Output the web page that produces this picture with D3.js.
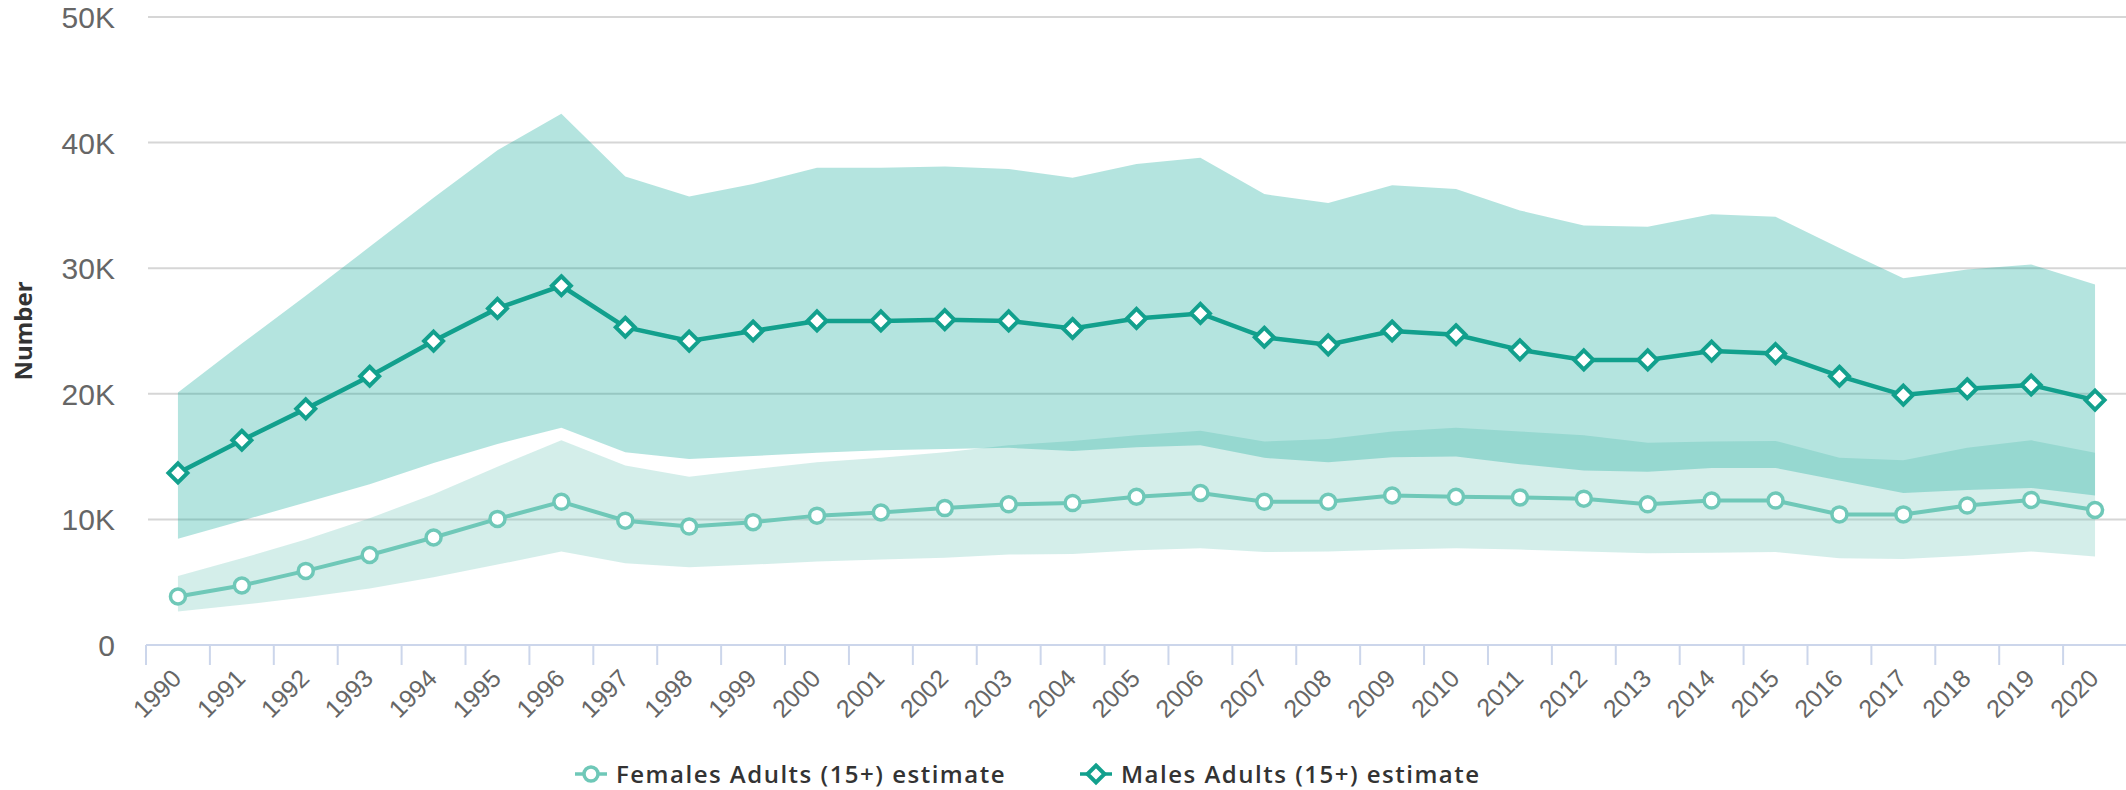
<!DOCTYPE html>
<html>
<head>
<meta charset="utf-8">
<script src="https://cdn.jsdelivr.net/npm/d3@7/dist/d3.min.js"></script>
<style>
  body { margin: 0; background: #fff; }
  svg { display: block; }
</style>
</head>
<body>
<svg id="chart"></svg>
<script>
// data (thousands)
const years = d3.range(1990, 2021);
const yTicks = [0, 10000, 20000, 30000, 40000, 50000];

const femaleEst  = [3.86, 4.74, 5.9, 7.17, 8.56, 10.04, 11.4, 9.9, 9.43, 9.78, 10.3, 10.55, 10.9, 11.2, 11.3, 11.8, 12.1, 11.4, 11.4, 11.9, 11.8, 11.75, 11.65, 11.2, 11.5, 11.5, 10.4, 10.4, 11.1, 11.55, 10.75];
const femaleLow  = [2.67, 3.2, 3.8, 4.5, 5.4, 6.4, 7.45, 6.5, 6.2, 6.4, 6.65, 6.8, 6.95, 7.2, 7.25, 7.55, 7.7, 7.4, 7.45, 7.6, 7.7, 7.6, 7.45, 7.3, 7.35, 7.4, 6.9, 6.85, 7.1, 7.45, 7.05];
const femaleHigh = [5.5, 6.9, 8.4, 10.1, 12.0, 14.2, 16.3, 14.3, 13.4, 14.0, 14.55, 14.9, 15.35, 15.9, 16.25, 16.7, 17.05, 16.2, 16.4, 17.0, 17.3, 17.0, 16.7, 16.1, 16.2, 16.25, 14.9, 14.7, 15.7, 16.3, 15.3];

const maleEst  = [13.7, 16.3, 18.8, 21.4, 24.2, 26.8, 28.6, 25.3, 24.2, 25.0, 25.8, 25.8, 25.9, 25.8, 25.2, 26.0, 26.4, 24.5, 23.9, 25.0, 24.7, 23.5, 22.7, 22.7, 23.4, 23.2, 21.4, 19.9, 20.4, 20.7, 19.5];
const maleLow  = [8.45, 9.9, 11.35, 12.8, 14.5, 16.0, 17.3, 15.35, 14.8, 15.05, 15.3, 15.5, 15.6, 15.7, 15.45, 15.75, 15.9, 14.9, 14.55, 14.95, 15.0, 14.4, 13.9, 13.8, 14.1, 14.1, 13.1, 12.1, 12.35, 12.5, 11.9];
const maleHigh = [20.1, 24.0, 27.8, 31.7, 35.6, 39.4, 42.3, 37.3, 35.7, 36.7, 38.0, 38.0, 38.1, 37.9, 37.2, 38.3, 38.8, 35.9, 35.2, 36.6, 36.3, 34.6, 33.4, 33.3, 34.3, 34.1, 31.6, 29.2, 29.9, 30.3, 28.7];

const seriesNames = ["Females Adults (15+) estimate", "Males Adults (15+) estimate"];

const femaleColor = "#6fc8b8";
const maleColor = "#12a08d";

const width = 2126, height = 790;
const svg = d3.select("#chart").attr("width", width).attr("height", height);

const x = d3.scaleBand().domain(years).range([146, 2127]).padding(0);
const y = d3.scaleLinear().domain([0, 50000]).range([645, 17]);
const cx = d => x(d) + x.bandwidth() / 2;

const toRows = (est, lo, hi) => years.map((yr, i) => ({ year: yr, est: est[i] * 1000, lo: lo[i] * 1000, hi: hi[i] * 1000 }));
const female = toRows(femaleEst, femaleLow, femaleHigh);
const male = toRows(maleEst, maleLow, maleHigh);

// gridlines
svg.append("g")
  .selectAll("line")
  .data(yTicks.filter(d => d > 0))
  .join("line")
    .attr("x1", 148).attr("x2", width)
    .attr("y1", d => y(d)).attr("y2", d => y(d))
    .attr("stroke", "#d6d6d6")
    .attr("stroke-width", 2);

// y labels
svg.append("g")
  .selectAll("text")
  .data(yTicks)
  .join("text")
    .attr("x", 115)
    .attr("y", d => y(d) + 11)
    .attr("text-anchor", "end")
    .style("font-family", "'Liberation Sans', Arial, sans-serif")
    .style("font-size", "30px")
    .style("fill", "#666")
    .text(d => d === 0 ? "0" : d3.format("d")(d / 1000) + "K");

// y title
svg.append("text")
  .attr("transform", "translate(32,331) rotate(-90)")
  .attr("text-anchor", "middle")
  .style("font-family", "'Open Sans', sans-serif")
  .style("font-weight", "700")
  .style("font-size", "24px")
  .style("fill", "#333")
  .text("Number");

// ranges
const area = d3.area().x(d => cx(d.year)).y0(d => y(d.lo)).y1(d => y(d.hi));
svg.append("path").datum(female).attr("d", area)
  .attr("fill", femaleColor).attr("fill-opacity", 0.3);
svg.append("path").datum(male).attr("d", area)
  .attr("fill", "#06a594").attr("fill-opacity", 0.3);

// x axis
svg.append("line")
  .attr("x1", 146).attr("x2", width)
  .attr("y1", 645).attr("y2", 645)
  .attr("stroke", "#ccd6eb").attr("stroke-width", 2);
svg.append("g")
  .selectAll("line")
  .data(years.concat([2021]))
  .join("line")
    .attr("x1", d => d === 2021 ? x(2020) + x.bandwidth() : x(d))
    .attr("x2", d => d === 2021 ? x(2020) + x.bandwidth() : x(d))
    .attr("y1", 645).attr("y2", 665)
    .attr("stroke", "#ccd6eb").attr("stroke-width", 2);
svg.append("g")
  .selectAll("text")
  .data(years)
  .join("text")
    .attr("transform", d => `translate(${cx(d) + 5},680) rotate(-45)`)
    .attr("text-anchor", "end")
    .style("font-family", "'Liberation Sans', Arial, sans-serif")
    .style("font-size", "25px")
    .style("fill", "#666")
    .text(d => d);

// lines
const line = d3.line().x(d => cx(d.year)).y(d => y(d.est));
svg.append("path").datum(female).attr("d", line)
  .attr("fill", "none").attr("stroke", femaleColor).attr("stroke-width", 4);
svg.append("path").datum(male).attr("d", line)
  .attr("fill", "none").attr("stroke", maleColor).attr("stroke-width", 4.5);

// markers
const diamond = (px, py, r) => `M${px},${py - r}L${px + r},${py}L${px},${py + r}L${px - r},${py}Z`;
svg.append("g")
  .selectAll("circle")
  .data(female)
  .join("circle")
    .attr("cx", d => cx(d.year)).attr("cy", d => y(d.est)).attr("r", 7.5)
    .attr("fill", "#fff").attr("stroke", femaleColor).attr("stroke-width", 3.5);
svg.append("g")
  .selectAll("path")
  .data(male)
  .join("path")
    .attr("d", d => diamond(cx(d.year), y(d.est), 9.5))
    .attr("fill", "#fff").attr("stroke", maleColor).attr("stroke-width", 4);

// legend
const legend = svg.append("g").style("font-family", "'Open Sans', sans-serif");
const items = [
  { name: seriesNames[0], color: femaleColor, sym: "circle", x: 575 },
  { name: seriesNames[1], color: maleColor, sym: "diamond", x: 1080 }
];
items.forEach(it => {
  const g = legend.append("g").attr("transform", `translate(${it.x},774)`);
  g.append("line").attr("x1", 0).attr("x2", 32).attr("y1", 0).attr("y2", 0)
    .attr("stroke", it.color).attr("stroke-width", 3.5);
  if (it.sym === "circle") {
    g.append("circle").attr("cx", 16).attr("cy", 0).attr("r", 7)
      .attr("fill", "#fff").attr("stroke", it.color).attr("stroke-width", 3.5);
  } else {
    g.append("path").attr("d", diamond(16, 0, 8.5))
      .attr("fill", "#fff").attr("stroke", it.color).attr("stroke-width", 4);
  }
  g.append("text").attr("x", 41).attr("y", 8.5)
    .style("font-size", "24px").style("font-weight", "600").style("fill", "#333")
    .style("letter-spacing", "1.5px")
    .text(it.name);
});
</script>
</body>
</html>
